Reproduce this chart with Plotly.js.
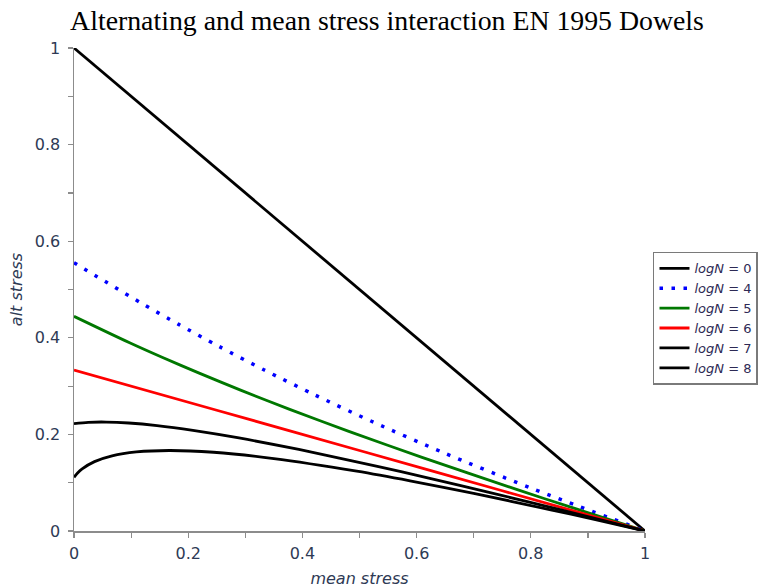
<!DOCTYPE html>
<html>
<head>
<meta charset="utf-8">
<script src="https://cdn.plot.ly/plotly-3.0.1.min.js"></script>
<style>html,body{margin:0;padding:0;background:#fff;}#chart{width:774px;height:588px;}</style>
</head>
<body>
<div id="chart"></div>
<script>
// Values (mean stress, alt stress)
const logN0_mean = [0, 1];
const logN0_alt  = [1, 0];

const logN4_mean = [0, 0.1179, 0.1833, 0.2545, 0.3333, 0.4222, 0.525, 0.6476, 0.8, 1];
const logN4_alt  = [0.5556, 0.4718, 0.4278, 0.3818, 0.3333, 0.2815, 0.225, 0.1619, 0.0889, 0];

const logN5_mean = [0, 0.0974, 0.1542, 0.2182, 0.2917, 0.3778, 0.4813, 0.6095, 0.775, 0.8782, 1];
const logN5_alt  = [0.4444, 0.3897, 0.3597, 0.3273, 0.2917, 0.2519, 0.2063, 0.1524, 0.0861, 0.0462, 0];

const logN6_mean = [0, 0.25, 0.5, 0.75, 1];
const logN6_alt  = [0.3333, 0.25, 0.1667, 0.0833, 0];

const logN7_mean = [0, 0.025, 0.0564, 0.0958, 0.1455, 0.2083, 0.2889, 0.3938, 0.5333, 0.6212, 0.725, 0.8492, 1];
const logN7_alt  = [0.2222, 0.225, 0.2256, 0.2236, 0.2182, 0.2083, 0.1926, 0.1688, 0.1333, 0.1096, 0.0806, 0.0447, 0];

const logN8_mean = [0, 0.0063, 0.0143, 0.0359, 0.0667, 0.1091, 0.1667, 0.2444, 0.35, 0.4952, 0.5885, 0.7, 0.8349, 0.9131, 1];
const logN8_alt  = [0.1111, 0.1201, 0.1286, 0.1436, 0.1556, 0.1636, 0.1667, 0.163, 0.15, 0.1238, 0.1038, 0.0778, 0.0439, 0.0234, 0];

const seriesNames = ['<i>logN</i> = 0', '<i>logN</i> = 4', '<i>logN</i> = 5', '<i>logN</i> = 6', '<i>logN</i> = 7', '<i>logN</i> = 8'];
const xTickVals = [0, 0.2, 0.4, 0.6, 0.8, 1];
const xTickText = ['0', '0.2', '0.4', '0.6', '0.8', '1'];
const yTickVals = [0, 0.2, 0.4, 0.6, 0.8, 1];
const yTickText = ['0', '0.2', '0.4', '0.6', '0.8', '1'];

const mk = (x, y, name, color, dash, w) => ({
  x: x, y: y, name: name, type: 'scatter', mode: 'lines',
  line: {color: color, width: w, dash: dash, shape: 'spline', smoothing: 0.8},
  hoverinfo: 'skip'
});

const traces = [
  mk(logN0_mean, logN0_alt, seriesNames[0], '#000000', 'solid', 2.8),
  mk(logN4_mean, logN4_alt, seriesNames[1], '#0000ff', '3.5px,8.5px', 3.5),
  mk(logN5_mean, logN5_alt, seriesNames[2], '#007800', 'solid', 2.8),
  mk(logN6_mean, logN6_alt, seriesNames[3], '#ff0000', 'solid', 2.8),
  mk(logN7_mean, logN7_alt, seriesNames[4], '#000000', 'solid', 2.8),
  mk(logN8_mean, logN8_alt, seriesNames[5], '#000000', 'solid', 2.8)
];

const axisColor = '#8c8c8c';
const labelColor = '#2e3a55';

const layout = {
  width: 774, height: 588,
  paper_bgcolor: '#ffffff', plot_bgcolor: '#ffffff',
  margin: {l: 74, r: 129, t: 48, b: 57},
  title: {
    text: 'Alternating and mean stress interaction EN 1995 Dowels',
    font: {family: 'Liberation Serif, Times New Roman, serif', size: 27.8, color: '#000'},
    x: 0.5, xanchor: 'center', xref: 'container', y: 0.966, yanchor: 'middle'
  },
  xaxis: {
    range: [0, 1], showgrid: false, zeroline: false,
    showline: true, linecolor: axisColor, linewidth: 1.5,
    ticks: 'outside', ticklen: 5, tickwidth: 1.2, tickcolor: axisColor,
    tickvals: xTickVals, ticktext: xTickText, ticklabelstandoff: 2,
    minor: {dtick: 0.1, ticks: 'outside', ticklen: 5, tickwidth: 1.2, tickcolor: axisColor},
    tickfont: {family: 'DejaVu Sans, Verdana, sans-serif', size: 16, color: labelColor},
    title: {text: '<i>mean stress</i>', standoff: 12,
      font: {family: 'DejaVu Sans, Verdana, sans-serif', size: 16, color: labelColor}},
    fixedrange: true
  },
  yaxis: {
    range: [0, 1], showgrid: false, zeroline: false,
    showline: true, linecolor: axisColor, linewidth: 1.5,
    ticks: 'outside', ticklen: 5, tickwidth: 1.2, tickcolor: axisColor,
    tickvals: yTickVals, ticktext: yTickText, ticklabelstandoff: 4,
    minor: {dtick: 0.1, ticks: 'outside', ticklen: 5, tickwidth: 1.2, tickcolor: axisColor},
    tickfont: {family: 'DejaVu Sans, Verdana, sans-serif', size: 16, color: labelColor},
    title: {text: '<i>alt stress</i>', standoff: 8,
      font: {family: 'DejaVu Sans, Verdana, sans-serif', size: 16, color: labelColor}},
    fixedrange: true
  },
  showlegend: true,
  legend: {
    x: 1.014, xanchor: 'left', y: 0.578, yanchor: 'top',
    bordercolor: '#7a7a7a', borderwidth: 1.5, bgcolor: '#ffffff',
    font: {family: 'DejaVu Sans, Verdana, sans-serif', size: 13, color: '#2e2a55'},
    tracegroupgap: 0, itemwidth: 30
  }
};

Plotly.newPlot('chart', traces, layout, {displayModeBar: false, staticPlot: true});
</script>
</body>
</html>
